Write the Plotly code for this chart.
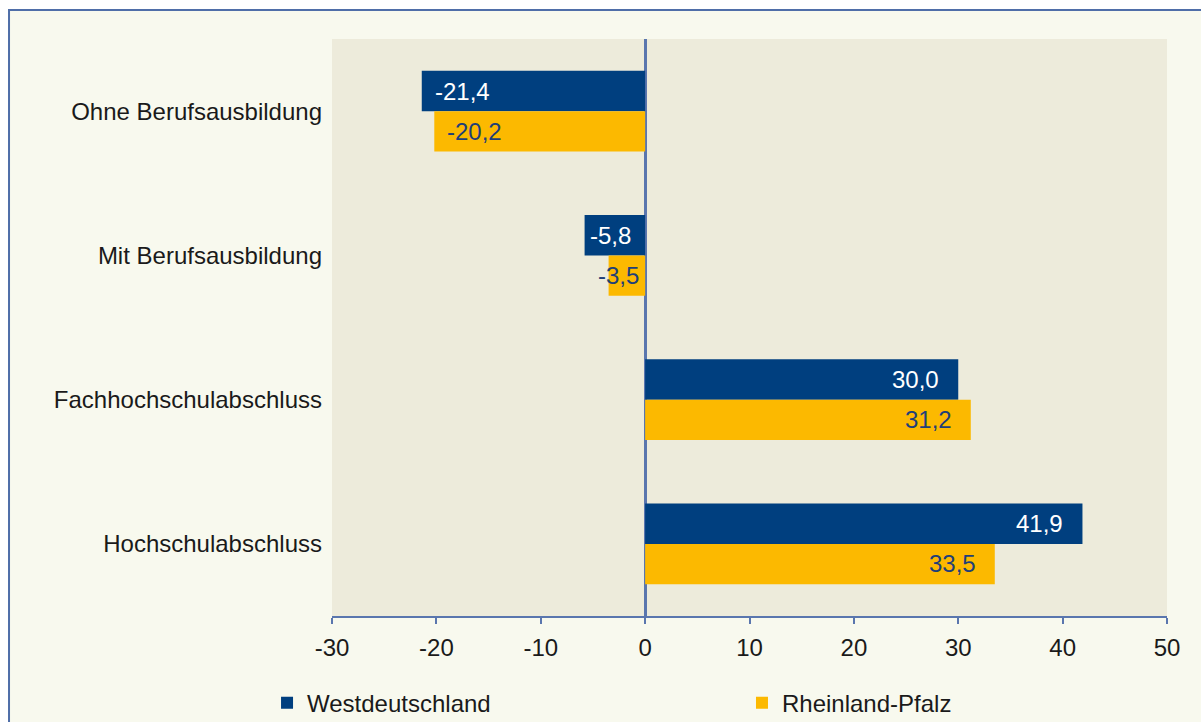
import plotly.graph_objects as go

# ---- data ----
categories = ["Ohne Berufsausbildung", "Mit Berufsausbildung",
              "Fachhochschulabschluss", "Hochschulabschluss"]
series_names = ["Westdeutschland", "Rheinland-Pfalz"]
west_values = [-21.4, -5.8, 30.0, 41.9]
rlp_values = [-20.2, -3.5, 31.2, 33.5]
x_tick_values = [-30, -20, -10, 0, 10, 20, 30, 40, 50]

# ---- style ----
FONT = "Liberation Sans, Arial, sans-serif"
NAVY = "#003F7F"
YELLOW = "#FCB900"
LABEL_NAVY = "#1F3F78"
AXIS_BLUE = "#5A76AE"
PAPER_CREAM = "#F8F9EE"
PLOT_BG = "#EDEBDB"
FS = 24

fig = go.Figure()
series = [(series_names[0], west_values, NAVY, "white", "legend"),
          (series_names[1], rlp_values, YELLOW, LABEL_NAVY, "legend2")]
for name, vals, col, _, lg in series:
    fig.add_trace(go.Bar(
        y=categories, x=vals, name=name, orientation="h",
        marker=dict(color=col, line=dict(width=0)),
        hoverinfo="x+name", legend=lg,
    ))

# value labels (inside end, Excel style)
def fmt(v):
    return f"{v:.1f}".replace(".", ",")

# small-bar label nudges (pixels) for labels that don't fit the usual padding
nudge = {("Westdeutschland", "Mit Berufsausbildung"): 3,
         ("Rheinland-Pfalz", "Mit Berufsausbildung"): -13}
annotations = []
for si, (name, vals, col, tcol, _) in enumerate(series):
    yshift = 20 if si == 0 else -20
    for cat, v in zip(categories, vals):
        if v < 0:
            xanchor, xshift = "left", nudge.get((name, cat), 11)
        else:
            xanchor, xshift = "right", -17
        annotations.append(dict(
            x=v, y=cat, xref="x", yref="y", text=fmt(v), showarrow=False,
            xanchor=xanchor, yanchor="middle", xshift=xshift, yshift=yshift,
            font=dict(family=FONT, size=FS, color=tcol),
        ))

shapes = [
    # outer chart frame
    dict(type="rect", xref="paper", yref="paper", x0=-0.3868, x1=2, y0=-2, y1=1.0503,
         fillcolor=PAPER_CREAM, line=dict(color="#4F6EA8", width=2), layer="below"),
    # plot area
    dict(type="rect", xref="paper", yref="paper", x0=0, x1=1, y0=0, y1=1,
         fillcolor=PLOT_BG, line=dict(width=0), layer="below"),
]

legend_common = dict(orientation="h", yanchor="middle", y=-0.151, xanchor="left",
                     font=dict(family=FONT, size=FS, color="#1A1A1A"),
                     bgcolor="rgba(0,0,0,0)", borderwidth=0)

fig.update_layout(
    width=1201, height=722,
    margin=dict(l=332, r=34, t=39, b=106, autoexpand=False),
    paper_bgcolor="white",
    plot_bgcolor="rgba(0,0,0,0)",
    barmode="group", bargap=0.44, bargroupgap=0,
    font=dict(family=FONT, size=FS, color="#1A1A1A"),
    showlegend=True,
    legend=dict(x=-0.0778, **legend_common),
    legend2=dict(x=0.491, **legend_common),
    annotations=annotations,
    shapes=shapes,
)
fig.update_xaxes(
    range=[-30, 50], tickvals=x_tick_values,
    ticktext=[str(t) for t in x_tick_values],
    showgrid=False, showline=True, linecolor=AXIS_BLUE, linewidth=2,
    ticks="outside", ticklen=6, tickwidth=2, tickcolor=AXIS_BLUE,
    zeroline=True, zerolinecolor=AXIS_BLUE, zerolinewidth=3,
    tickfont=dict(family=FONT, size=FS, color="#1A1A1A"),
    ticklabelstandoff=3, fixedrange=True,
)
fig.update_yaxes(
    autorange="reversed", showgrid=False, showline=False, zeroline=False,
    ticks="", ticklabelstandoff=9,
    tickfont=dict(family=FONT, size=FS, color="#1A1A1A"), fixedrange=True,
)

fig.write_html("out.html", config={"displayModeBar": False},
               post_script="document.body.style.margin='0';")
